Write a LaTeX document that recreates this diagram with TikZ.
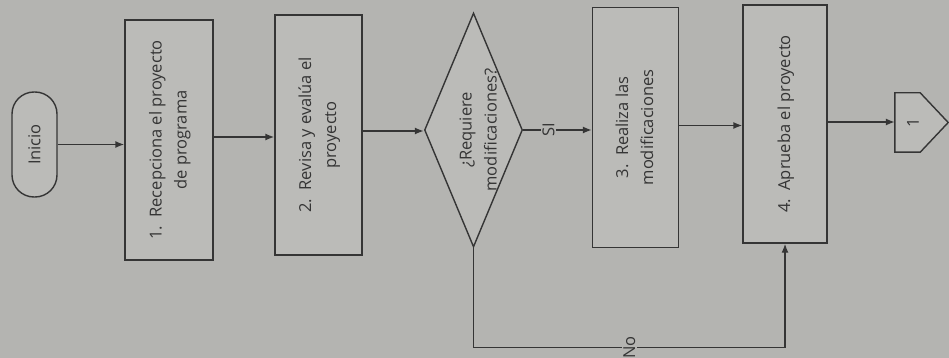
\documentclass[tikz,border=0pt]{standalone}
\usepackage{fontspec}
\setmainfont{Open Sans}
\usetikzlibrary{shapes.geometric,arrows.meta,calc}
\definecolor{bg}{HTML}{B4B4B1}
\definecolor{fillc}{HTML}{BBBBB8}
\definecolor{ink}{HTML}{353535}
\begin{document}
\begin{tikzpicture}[x=1pt,y=-1pt,
  every node/.style={font=\fontsize{16.5}{25}\selectfont, text=ink},
  proc/.style={draw=ink, line width=1.4pt, fill=fillc, inner sep=0pt},
  term/.style={draw=ink, line width=1.4pt, fill=fillc, rounded corners=22pt,
    minimum width=45pt, minimum height=105pt, inner sep=0pt},
  dec/.style={draw=ink, line width=1.4pt, fill=fillc, diamond, inner sep=0pt,
    minimum width=98pt, minimum height=234pt},
  offbox/.style={inner sep=0pt, minimum width=53pt, minimum height=59pt},
  offline/.style={draw=ink, line width=1.4pt, fill=fillc},
  flow/.style={draw=ink, line width=1.4pt, -{Latex[length=9pt,width=7pt]}},
  lbl/.style={fill=bg, inner sep=1.5pt}
]
\fill[bg] (0,0) rectangle (949,358);
\useasboundingbox (0,0) rectangle (949,358);

\node[term] (inicio) at (34.5,144.5) {\rotatebox{90}{Inicio}};
\node[proc, minimum width=88pt, minimum height=240pt] (b1) at (169,140)
  {\rotatebox{90}{\begin{tabular}{@{}c@{}}1.\ \ Recepciona el proyecto\\de programa\end{tabular}}};
\node[proc, minimum width=87pt, minimum height=240pt] (b2) at (318.5,135)
  {\rotatebox{90}{\begin{tabular}{@{}c@{}}2.\ \ Revisa y evalúa el\\proyecto\end{tabular}}};
\node[dec] (dia) at (473.5,130) {};
\node (diat) at (479,130)
  {\rotatebox{90}{\begin{tabular}{@{}c@{}}¿Requiere\\modificaciones?\end{tabular}}};
\node[proc, minimum width=86pt, minimum height=240pt] (b3) at (635.5,127.5)
  {\rotatebox{90}{\begin{tabular}{@{}c@{}}3.\ \ Realiza las\\modificaciones\end{tabular}}};
\node[proc, minimum width=84pt, minimum height=238pt] (b4) at (785,124)
  {\rotatebox{90}{\begin{tabular}{@{}c@{}}4.\ \ Aprueba el proyecto\end{tabular}}};
\node[offbox] (off) at (921.5,122.5) {};
\draw[offline] (off.north west) -- ($(off.north east)+(-28,0)$) -- (off.east)
  -- ($(off.south east)+(-28,0)$) -- (off.south west) -- cycle;
\node (offt) at (913,122.5) {\rotatebox{90}{1}};

\coordinate (s1) at ($(b1.east)+(0,-3)$);
\coordinate (s2) at ($(b2.east)+(0,-4)$);
\coordinate (s3) at ($(b3.east)+(0,-2)$);
\coordinate (s4) at ($(b4.east)+(0,-2)$);

\draw[flow] (inicio.east) -- (inicio.east -| b1.west);
\draw[flow] (s1) -- (s1 -| b2.west);
\draw[flow] (s2) -- (s2 -| dia.west);
\draw[flow] (dia.east) -- node[lbl, pos=0.37] {\rotatebox{90}{SI}} (dia.east -| b3.west);
\draw[flow] (s3) -- (s3 -| b4.west);
\draw[flow] (s4) -- (s4 -| off.west);
\draw[flow] (dia.south) -- ++(0,100) -| node[lbl, pos=0.25] {\rotatebox{90}{No}} (b4.south);
\end{tikzpicture}
\end{document}
